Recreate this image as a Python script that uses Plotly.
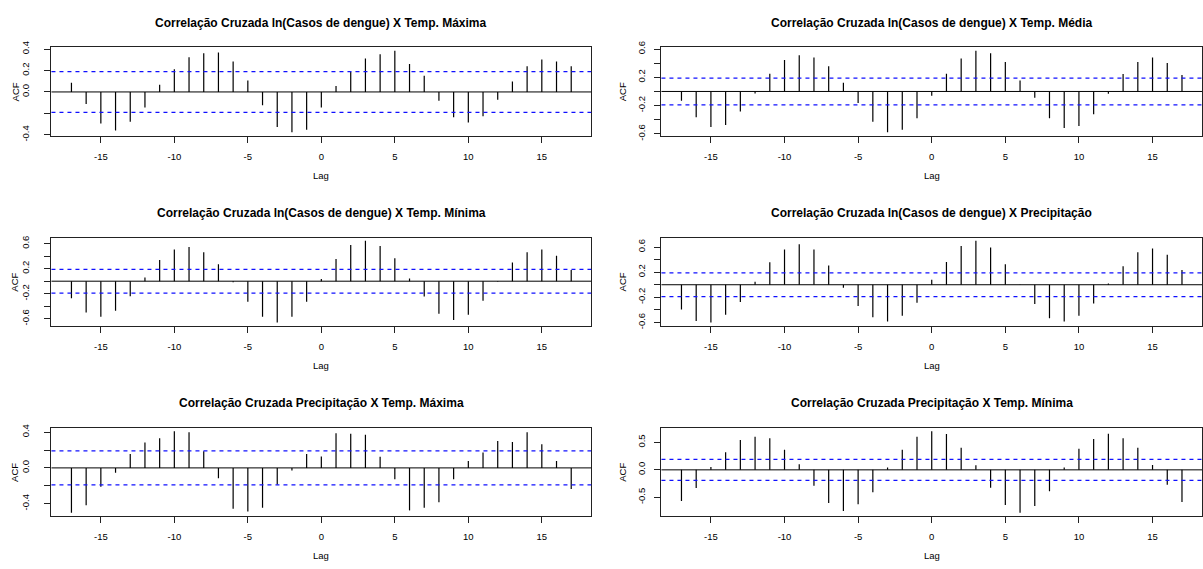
import plotly.graph_objects as go

lags = list(range(-17, 18))

acf_dengue_tmax = [0.085, -0.112, -0.294, -0.36, -0.279, -0.145, 0.067, 0.212, 0.324, 0.36, 0.367, 0.285,
                   0.106, -0.124, -0.327, -0.376, -0.352, -0.145, 0.055, 0.188, 0.312, 0.352, 0.385, 0.261,
                   0.152, -0.082, -0.236, -0.285, -0.227, -0.073, 0.097, 0.239, 0.303, 0.285, 0.239]
acf_dengue_tmed = [-0.131, -0.366, -0.503, -0.476, -0.283, -0.03, 0.251, 0.444, 0.513, 0.48, 0.356, 0.122,
                   -0.163, -0.43, -0.577, -0.54, -0.379, -0.062, 0.251, 0.467, 0.577, 0.54, 0.416, 0.154,
                   -0.09, -0.379, -0.517, -0.49, -0.324, -0.034, 0.246, 0.416, 0.48, 0.402, 0.232]
acf_dengue_tmin = [-0.271, -0.5, -0.568, -0.474, -0.24, 0.057, 0.339, 0.505, 0.547, 0.464, 0.271, -0.016,
                   -0.328, -0.568, -0.661, -0.568, -0.328, 0.036, 0.354, 0.578, 0.646, 0.563, 0.365, 0.042,
                   -0.245, -0.521, -0.62, -0.536, -0.313, -0.01, 0.297, 0.464, 0.505, 0.406, 0.177]
acf_dengue_prec = [-0.394, -0.575, -0.601, -0.477, -0.275, 0.047, 0.358, 0.56, 0.642, 0.56, 0.306, -0.047,
                   -0.337, -0.518, -0.585, -0.492, -0.285, 0.078, 0.363, 0.617, 0.699, 0.591, 0.326, 0.005,
                   -0.306, -0.534, -0.585, -0.492, -0.3, 0.02, 0.295, 0.518, 0.575, 0.477, 0.233]
acf_prec_tmax = [-0.502, -0.418, -0.211, -0.055, 0.156, 0.284, 0.331, 0.411, 0.4, 0.185, -0.116, -0.458,
                 -0.487, -0.447, -0.185, -0.029, 0.156, 0.127, 0.389, 0.382, 0.371, 0.124, -0.127, -0.476,
                 -0.447, -0.385, -0.127, 0.076, 0.171, 0.302, 0.291, 0.4, 0.265, 0.076, -0.236]
acf_prec_tmin = [-0.568, -0.331, 0.053, 0.32, 0.544, 0.604, 0.574, 0.367, 0.1, -0.29, -0.604, -0.751,
                 -0.627, -0.408, 0.041, 0.367, 0.604, 0.704, 0.651, 0.402, 0.083, -0.325, -0.639, -0.781,
                 -0.657, -0.391, 0.041, 0.385, 0.562, 0.657, 0.574, 0.402, 0.089, -0.272, -0.586]

conf_limit = 0.19

titles = [
    "Correlação Cruzada ln(Casos de dengue) X Temp. Máxima",
    "Correlação Cruzada ln(Casos de dengue) X Temp. Média",
    "Correlação Cruzada ln(Casos de dengue) X Temp. Mínima",
    "Correlação Cruzada ln(Casos de dengue) X Precipitação",
    "Correlação Cruzada Precipitação X Temp. Máxima",
    "Correlação Cruzada Precipitação X Temp. Mínima",
]
series = [acf_dengue_tmax, acf_dengue_tmed, acf_dengue_tmin, acf_dengue_prec, acf_prec_tmax, acf_prec_tmin]

ytick_vals = [
    [-0.4, -0.2, 0.0, 0.2, 0.4],
    [-0.6, -0.4, -0.2, 0.0, 0.2, 0.4, 0.6],
    [-0.6, -0.4, -0.2, 0.0, 0.2, 0.4, 0.6],
    [-0.6, -0.4, -0.2, 0.0, 0.2, 0.4, 0.6],
    [-0.4, -0.2, 0.0, 0.2, 0.4],
    [-0.5, 0.0, 0.5],
]
ytick_text = [
    ["-0.4", "", "0.0", "0.2", "0.4"],
    ["-0.6", "", "-0.2", "", "0.2", "", "0.6"],
    ["-0.6", "", "-0.2", "", "0.2", "", "0.6"],
    ["-0.6", "", "-0.2", "", "0.2", "", "0.6"],
    ["-0.4", "", "0.0", "", "0.4"],
    ["-0.5", "0.0", "0.5"],
]
xtick_vals = [-15, -10, -5, 0, 5, 10, 15]

W, H = 1203, 569
# plot box geometry (pixels)
col_x = [(51.5, 591.7), (662.0, 1203.0)]
row_y = [(42.3, 132.3), (236.5, 326.7), (431.0, 521.0)]
ylab_standoff = [12, 6]
acf_label_offset = [36.5, 38.7]

FONT = "Liberation Sans, Arial, sans-serif"
fig = go.Figure()
layout = dict(width=W, height=H, margin=dict(l=0, r=0, t=0, b=0),
              paper_bgcolor="white", plot_bgcolor="white", showlegend=False,
              font=dict(family=FONT, color="black"))
shapes, annotations = [], []

xr = [-17 - 34 * 0.04, 17 + 34 * 0.04]

for i, (title, vals) in enumerate(zip(titles, series)):
    r, c = divmod(i, 2)
    n = i + 1
    xa = "x" if n == 1 else f"x{n}"
    ya = "y" if n == 1 else f"y{n}"
    xs, ys = [], []
    for lg, v in zip(lags, vals):
        xs += [lg, lg, None]
        ys += [0, v, None]
    fig.add_trace(go.Scatter(x=xs, y=ys, mode="lines", xaxis=xa, yaxis=ya,
                             line=dict(color="black", width=1.2), hoverinfo="skip"))
    lo = min(min(vals), -conf_limit)
    hi = max(max(vals), conf_limit)
    pad = (hi - lo) * 0.04
    x0, x1 = col_x[c]
    yt, yb = row_y[r]
    common = dict(showgrid=False, zeroline=False, showline=True, mirror=True,
                  linecolor="#222", linewidth=1, ticks="outside", ticklen=6,
                  tickwidth=1, tickcolor="#222", tickfont=dict(size=9.5, family=FONT))
    layout["xaxis" if n == 1 else f"xaxis{n}"] = dict(
        domain=[x0 / W, min(x1 / W, 1.0)], range=xr, anchor=ya,
        tickvals=xtick_vals, ticktext=[str(t) for t in xtick_vals],
        ticklabelstandoff=6, **common)
    layout["yaxis" if n == 1 else f"yaxis{n}"] = dict(
        domain=[1 - yb / H, 1 - yt / H], range=[lo - pad, hi + pad], anchor=xa,
        tickvals=ytick_vals[i], ticktext=ytick_text[i], tickangle=-90,
        ticklabelstandoff=ylab_standoff[c], **common)
    shapes.append(dict(type="line", xref=f"{xa} domain", yref=ya, x0=0, x1=1, y0=0, y1=0,
                       layer="above", line=dict(color="black", width=1)))
    for s in (conf_limit, -conf_limit):
        shapes.append(dict(type="line", xref=f"{xa} domain", yref=ya, x0=0, x1=1, y0=s, y1=s,
                           layer="above", line=dict(color="#1010FF", width=1.3, dash="4px,4px")))
    zero_px = x0 + (0 - xr[0]) / (xr[1] - xr[0]) * (x1 - x0)
    annotations.append(dict(text=f"<b>{title}</b>", x=zero_px / W, y=1 - (yt - 25.0) / H,
                            xref="paper", yref="paper", showarrow=False,
                            xanchor="center", yanchor="middle",
                            font=dict(size=12, family=FONT, color="black")))
    annotations.append(dict(text="Lag", x=zero_px / W, y=1 - (yb + 40.4) / H,
                            xref="paper", yref="paper", showarrow=False,
                            xanchor="center", yanchor="middle",
                            font=dict(size=9.5, family=FONT, color="black")))
    annotations.append(dict(text="ACF", x=(x0 - acf_label_offset[c]) / W, y=1 - ((yt + yb) / 2) / H,
                            xref="paper", yref="paper", showarrow=False, textangle=-90,
                            xanchor="center", yanchor="middle",
                            font=dict(size=9.5, family=FONT, color="black")))

layout["shapes"] = shapes
layout["annotations"] = annotations
fig.update_layout(**layout)
fig.write_html("out.html")
